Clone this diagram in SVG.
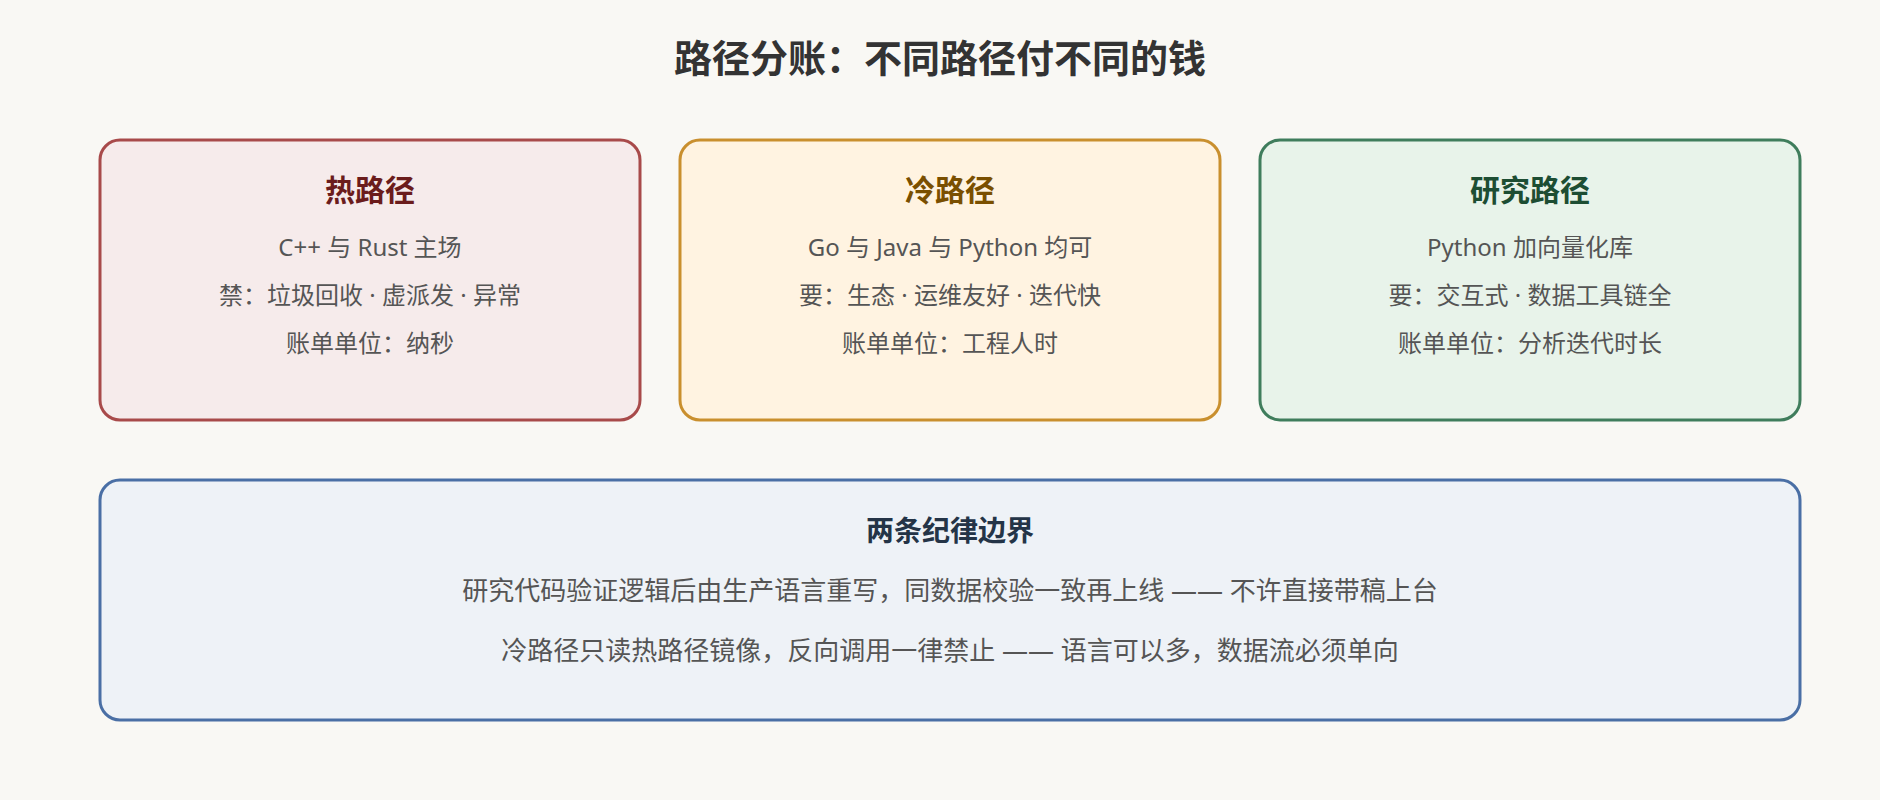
<svg xmlns="http://www.w3.org/2000/svg" width="1880" height="800" viewBox="0 0 1880 800">
<style>
  text { font-family: "Noto Sans", "Noto Sans CJK SC", "Liberation Sans", sans-serif; text-anchor: middle; }
  .title { font-size: 38px; font-weight: 700; fill: #333333; }
  .card { stroke-width: 3; }
  .ctitle { font-size: 30px; font-weight: 700; }
  .line { font-size: 24px; fill: #555555; }
  .btitle { font-size: 28px; font-weight: 700; fill: #243447; }
  .bline { font-size: 26px; fill: #555555; }
</style>
<rect x="0" y="0" width="1880" height="800" fill="#F9F8F4"/>
<text class="title" x="940" y="72">路径分账：不同路径付不同的钱</text>
<g id="hot-path">
  <rect class="card" x="100" y="140" width="540" height="280" rx="20" fill="#F6EBEB" stroke="#A84A4A"/>
  <text class="ctitle" x="370" y="201" fill="#6B1C1C">热路径</text>
  <text class="line" x="370" y="256">C++ 与 Rust 主场</text>
  <text class="line" x="370" y="304">禁：垃圾回收 · 虚派发 · 异常</text>
  <text class="line" x="370" y="352">账单单位：纳秒</text>
</g>
<g id="cold-path">
  <rect class="card" x="680" y="140" width="540" height="280" rx="20" fill="#FFF3E1" stroke="#C98F2E"/>
  <text class="ctitle" x="950" y="201" fill="#7A4F00">冷路径</text>
  <text class="line" x="950" y="256">Go 与 Java 与 Python 均可</text>
  <text class="line" x="950" y="304">要：生态 · 运维友好 · 迭代快</text>
  <text class="line" x="950" y="352">账单单位：工程人时</text>
</g>
<g id="research-path">
  <rect class="card" x="1260" y="140" width="540" height="280" rx="20" fill="#E8F3EA" stroke="#3F7D5C"/>
  <text class="ctitle" x="1530" y="201" fill="#1D4D33">研究路径</text>
  <text class="line" x="1530" y="256">Python 加向量化库</text>
  <text class="line" x="1530" y="304">要：交互式 · 数据工具链全</text>
  <text class="line" x="1530" y="352">账单单位：分析迭代时长</text>
</g>
<g id="discipline">
  <rect class="card" x="100" y="480" width="1700" height="240" rx="20" fill="#EEF2F7" stroke="#4A6FA5"/>
  <text class="btitle" x="950" y="541">两条纪律边界</text>
  <text class="bline" x="950" y="600">研究代码验证逻辑后由生产语言重写，同数据校验一致再上线 —— 不许直接带稿上台</text>
  <text class="bline" x="950" y="660">冷路径只读热路径镜像，反向调用一律禁止 —— 语言可以多，数据流必须单向</text>
</g>
<g id="connectors"></g>
</svg>
